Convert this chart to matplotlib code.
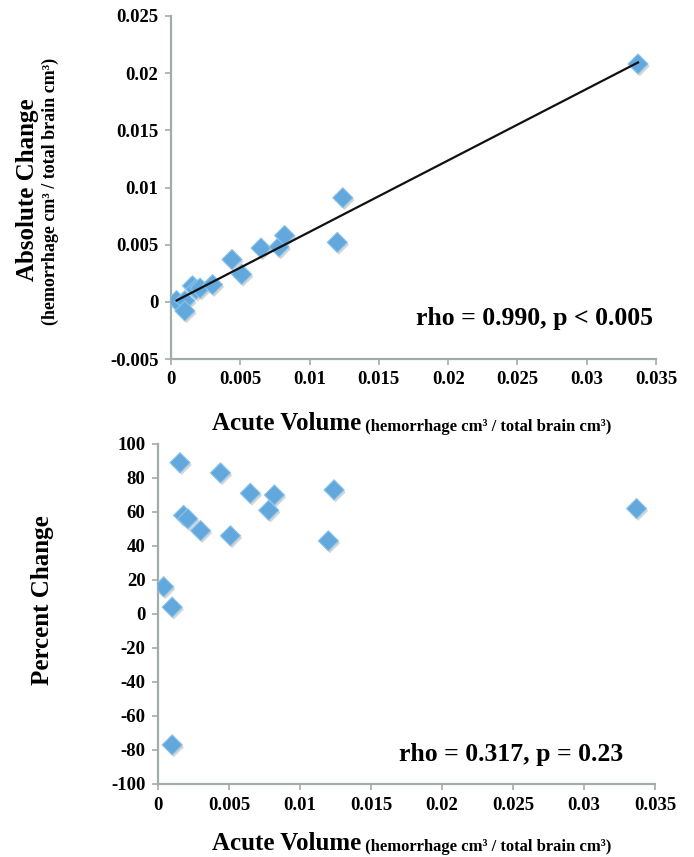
import numpy as np
import matplotlib
matplotlib.use("Agg")
import matplotlib.pyplot as plt
import matplotlib.patheffects as pe
from matplotlib.ticker import MultipleLocator, FuncFormatter

plt.rcParams["font.family"] = ["Liberation Serif", "DejaVu Serif"]
plt.rcParams["font.weight"] = "bold"
plt.rcParams["axes.unicode_minus"] = False

# acute volume (hemorrhage cm3 / total brain cm3)
acute = [0.0004, 0.0010, 0.0010, 0.00155, 0.0018, 0.0021, 0.0030, 0.0044,
         0.0051, 0.0065, 0.0078, 0.0082, 0.0120, 0.0124, 0.0337]
# absolute change
abs_change = [0.0001, 0.0001, -0.0008, 0.0014, 0.0011, 0.0012, 0.0015, 0.0037,
              0.0024, 0.0047, 0.0048, 0.0058, 0.0052, 0.0091, 0.0208]
# percent change
pct_change = [16, 4, -77, 89, 58, 56, 49, 83, 46, 71, 61, 70, 43, 73, 62]

rho_top = "rho = 0.990, p < 0.005"
rho_bot = "rho = 0.317, p = 0.23"

W, H = 694, 857
fig = plt.figure(figsize=(W / 100, H / 100), dpi=100)

def px_axes(l, t, r, b):
    return fig.add_axes([l / W, 1 - b / H, (r - l) / W, (b - t) / H])

ax1 = px_axes(171, 16, 656, 359)
ax2 = px_axes(158, 444, 655, 784)

axis_grey = "#a3acac"
fmt = FuncFormatter(lambda v, p: "%g" % round(v, 6))
shadow = [pe.SimplePatchShadow(offset=(1.2, -1.6), shadow_rgbFace="#8a8a8a", alpha=0.35),
          pe.Normal()]

def style(ax):
    for s in ["top", "right"]:
        ax.spines[s].set_visible(False)
    for s in ["left", "bottom"]:
        ax.spines[s].set_color(axis_grey)
        ax.spines[s].set_linewidth(1.6)
    ax.tick_params(direction="out", length=4, width=1.2, color=axis_grey,
                   labelsize=13.5, pad=5)
    ax.xaxis.set_major_locator(MultipleLocator(0.005))
    ax.xaxis.set_major_formatter(fmt)
    ax.set_xlim(0, 0.035)

# top panel: absolute change
ax1.scatter(acute, abs_change, marker="D", s=105, color="#62a8dd",
            edgecolor="#8cc4ea", linewidth=0.8, zorder=3, path_effects=shadow)
k, c = np.polyfit(acute, abs_change, 1)
xl = np.array([min(acute), max(acute)])
ax1.plot(xl, k * xl + c, color="#111111", lw=1.6, zorder=4)
ax1.set_ylim(-0.005, 0.025)
ax1.yaxis.set_major_locator(MultipleLocator(0.005))
ax1.yaxis.set_major_formatter(fmt)
style(ax1)

# bottom panel: percent change
ax2.scatter(acute, pct_change, marker="D", s=105, color="#62a8dd",
            edgecolor="#8cc4ea", linewidth=0.8, zorder=3, path_effects=shadow)
ax2.set_ylim(-100, 100)
ax2.yaxis.set_major_locator(MultipleLocator(20))
style(ax2)

fig.canvas.draw()
for ax in (ax1, ax2):
    plt.setp(ax.get_xticklabels() + ax.get_yticklabels(), fontweight="bold")

# labels
fig.text(28 / W, 1 - 190 / H, "Absolute Change", rotation=90, fontsize=18,
         fontweight="bold", ha="center", va="center")
fig.text(50 / W, 1 - 191 / H, "(hemorrhage cm³ / total brain cm³)", rotation=90,
         fontsize=13, fontweight="bold", ha="center", va="center")
fig.text(43 / W, 1 - 600 / H, "Percent Change", rotation=90, fontsize=18,
         fontweight="bold", ha="center", va="center")

for yc in (423, 843):
    t = fig.text(212 / W, 1 - (yc + 7) / H, "Acute Volume", fontsize=18,
                 fontweight="bold", ha="left", va="baseline")
    plt.annotate(" (hemorrhage cm³ / total brain cm³)", xy=(1, 0), xycoords=t,
                 fontsize=12, fontweight="bold", ha="left", va="bottom")

fig.text(653 / W, 1 - 318 / H, rho_top, fontsize=18.5, fontweight="bold",
         ha="right", va="center")
fig.text(623 / W, 1 - 754 / H, rho_bot, fontsize=18.5, fontweight="bold",
         ha="right", va="center")

fig.savefig("out.png", dpi=100)
